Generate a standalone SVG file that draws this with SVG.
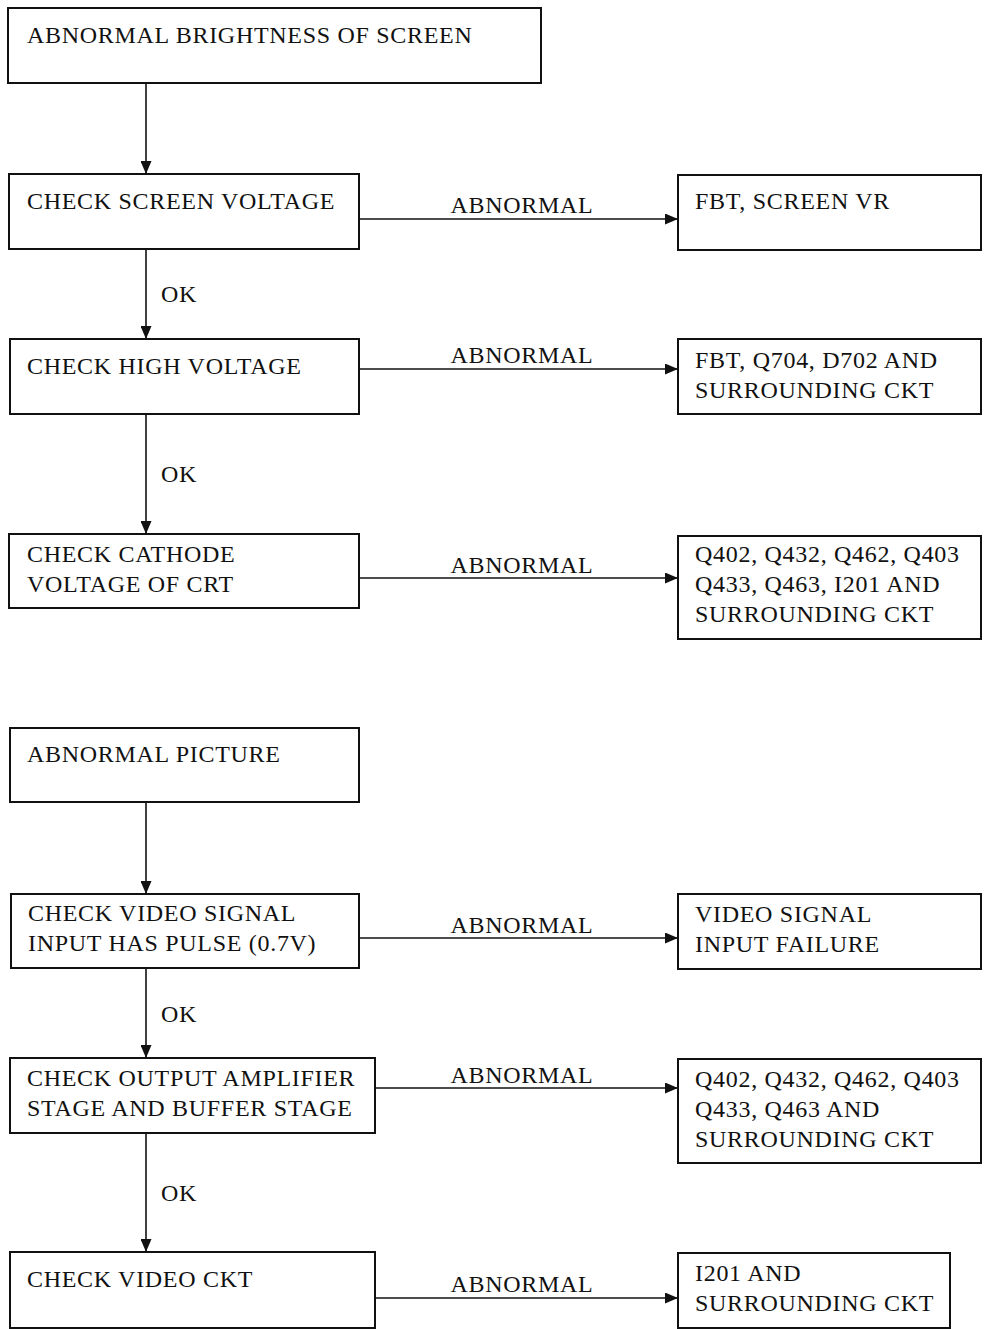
<svg xmlns="http://www.w3.org/2000/svg" width="984" height="1329" viewBox="0 0 984 1329">
<style>
rect{fill:#fff;stroke:#111;stroke-width:2}
text{font-family:"Liberation Serif","Times New Roman",serif;font-size:24px;fill:#111;letter-spacing:0.7px}
.c line{stroke:#111;stroke-width:1.6}
</style>
<defs>
<marker id="a" viewBox="0 0 13 11" refX="13" refY="5.5" markerWidth="13" markerHeight="11" markerUnits="userSpaceOnUse" orient="auto"><path d="M0,0L13,5.5L0,11z" fill="#111"/></marker>
</defs>
<rect width="984" height="1329" style="stroke:none"/>
<g class="c">
<line x1="146" y1="83" x2="146" y2="174" marker-end="url(#a)"/>
<line x1="146" y1="249" x2="146" y2="339" marker-end="url(#a)"/>
<line x1="146" y1="414" x2="146" y2="534" marker-end="url(#a)"/>
<line x1="359" y1="219" x2="678" y2="219" marker-end="url(#a)"/>
<line x1="359" y1="369" x2="678" y2="369" marker-end="url(#a)"/>
<line x1="359" y1="578" x2="678" y2="578" marker-end="url(#a)"/>
<line x1="146" y1="802" x2="146" y2="894" marker-end="url(#a)"/>
<line x1="146" y1="968" x2="146" y2="1058" marker-end="url(#a)"/>
<line x1="146" y1="1133" x2="146" y2="1252" marker-end="url(#a)"/>
<line x1="359" y1="938" x2="678" y2="938" marker-end="url(#a)"/>
<line x1="375" y1="1088" x2="678" y2="1088" marker-end="url(#a)"/>
<line x1="375" y1="1298" x2="678" y2="1298" marker-end="url(#a)"/>
<text x="522" y="213" text-anchor="middle">ABNORMAL</text>
<text x="522" y="363" text-anchor="middle">ABNORMAL</text>
<text x="522" y="573" text-anchor="middle">ABNORMAL</text>
<text x="522" y="933" text-anchor="middle">ABNORMAL</text>
<text x="522" y="1083" text-anchor="middle">ABNORMAL</text>
<text x="522" y="1292" text-anchor="middle">ABNORMAL</text>
<text x="161" y="302">OK</text>
<text x="161" y="482">OK</text>
<text x="161" y="1022">OK</text>
<text x="161" y="1201">OK</text>
</g>
<g id="n1"><rect x="8" y="8" width="533" height="75"/><text x="27" y="43">ABNORMAL BRIGHTNESS OF SCREEN</text></g>
<g id="n2"><rect x="9" y="174" width="350" height="75"/><text x="27" y="209">CHECK SCREEN VOLTAGE</text></g>
<g id="r2"><rect x="678" y="175" width="303" height="75"/><text x="695" y="209">FBT, SCREEN VR</text></g>
<g id="n3"><rect x="10" y="339" width="349" height="75"/><text x="27" y="374">CHECK HIGH VOLTAGE</text></g>
<g id="r3"><rect x="678" y="339" width="303" height="75"/><text x="695" y="368">FBT, Q704, D702 AND</text><text x="695" y="398">SURROUNDING CKT</text></g>
<g id="n4"><rect x="9" y="534" width="350" height="74"/><text x="27" y="562">CHECK CATHODE</text><text x="27" y="592">VOLTAGE OF CRT</text></g>
<g id="r4"><rect x="678" y="536" width="303" height="103"/><text x="695" y="562">Q402, Q432, Q462, Q403</text><text x="695" y="592">Q433, Q463, I201 AND</text><text x="695" y="622">SURROUNDING CKT</text></g>
<g id="n5"><rect x="10" y="728" width="349" height="74"/><text x="27" y="762">ABNORMAL PICTURE</text></g>
<g id="n6"><rect x="11" y="894" width="348" height="74"/><text x="28" y="921">CHECK VIDEO SIGNAL</text><text x="28" y="951">INPUT HAS PULSE (0.7V)</text></g>
<g id="r6"><rect x="678" y="894" width="303" height="75"/><text x="695" y="922">VIDEO SIGNAL</text><text x="695" y="952">INPUT FAILURE</text></g>
<g id="n7"><rect x="10" y="1058" width="365" height="75"/><text x="27" y="1086">CHECK OUTPUT AMPLIFIER</text><text x="27" y="1116">STAGE AND BUFFER STAGE</text></g>
<g id="r7"><rect x="678" y="1059" width="303" height="104"/><text x="695" y="1087">Q402, Q432, Q462, Q403</text><text x="695" y="1117">Q433, Q463 AND</text><text x="695" y="1147">SURROUNDING CKT</text></g>
<g id="n8"><rect x="10" y="1252" width="365" height="76"/><text x="27" y="1287">CHECK VIDEO CKT</text></g>
<g id="r8"><rect x="678" y="1253" width="272" height="75"/><text x="695" y="1281">I201 AND</text><text x="695" y="1311">SURROUNDING CKT</text></g>
</svg>
